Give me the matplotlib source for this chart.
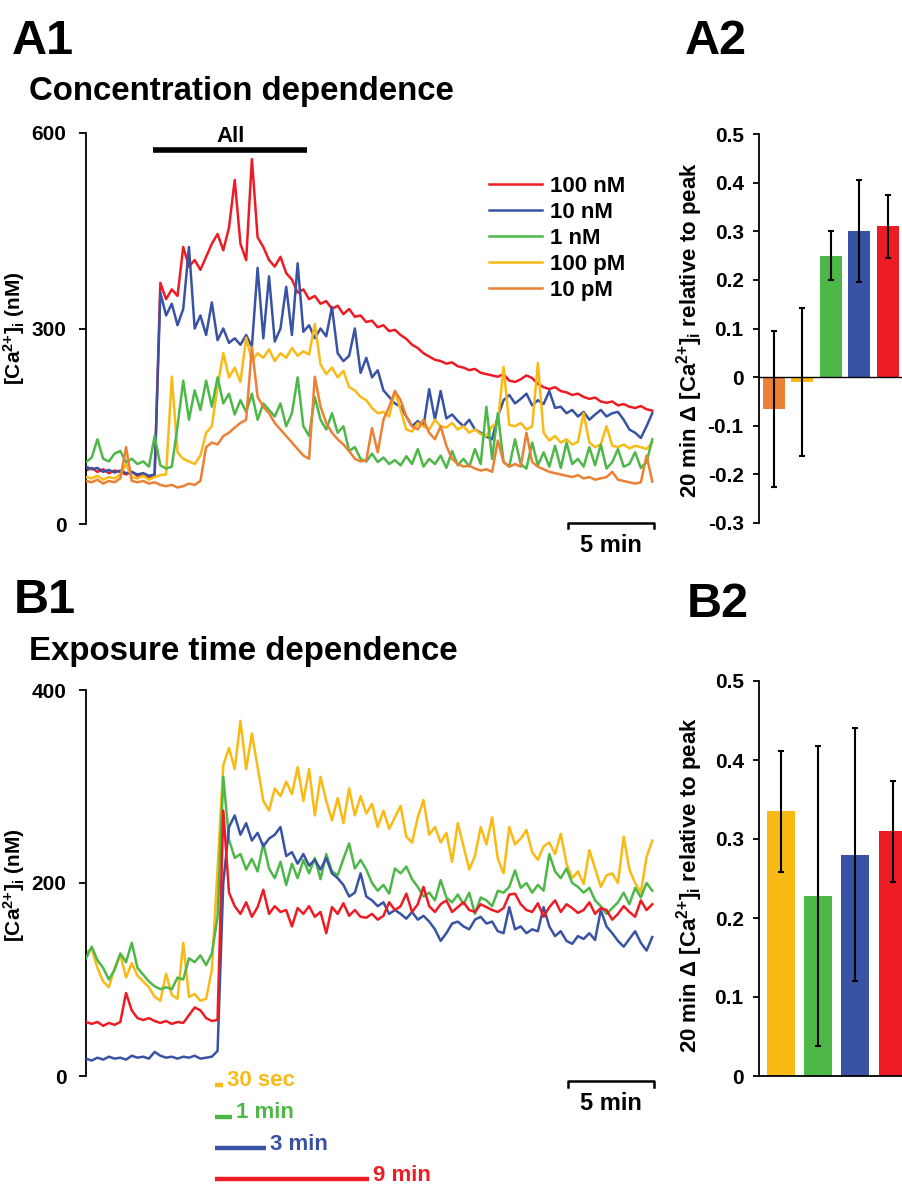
import numpy as np
import matplotlib
matplotlib.use('Agg')
import matplotlib.pyplot as plt

# ---------------- data ----------------
DT = 1 / 3

# A1: concentration dependence, [Ca2+]i (nM)
conc_labels = ['100 nM', '10 nM', '1 nM', '100 pM', '10 pM']
ca_100nM = [82, 86, 80, 84, 78, 82, 80, 76, 80, 74,
            77, 72, 75, 370, 345, 360, 350, 425, 395, 405,
            390, 410, 430, 445, 420, 455, 528, 430, 405, 560,
            440, 425, 405, 395, 410, 385, 375, 355, 360, 345,
            350, 338, 342, 330, 335, 322, 330, 318, 320, 310,
            312, 302, 305, 296, 298, 290, 284, 275, 270, 262,
            257, 252, 250, 246, 248, 242, 240, 236, 238, 232,
            230, 228, 226, 230, 220, 218, 222, 228, 224, 215,
            210, 207, 210, 204, 202, 198, 200, 195, 192, 194,
            188, 186, 188, 182, 184, 180, 178, 181, 176, 174]
ca_10nM = [88, 84, 86, 80, 83, 79, 82, 78, 80, 76,
           78, 74, 76, 355, 320, 338, 305, 330, 425, 300,
           320, 290, 340, 282, 300, 278, 285, 275, 290, 272,
           393, 285, 380, 280, 300, 364, 290, 400, 295, 305,
           285, 300, 288, 333, 262, 250, 258, 300, 232, 255,
           225, 236, 205, 195, 185, 180, 165, 150, 158, 150,
           207, 160, 204, 162, 168, 158, 150, 160, 145, 140,
           134, 130, 165, 190, 198, 185, 192, 200, 182, 190,
           184, 204, 178, 180, 170, 175, 165, 172, 160, 168,
           175, 165, 170, 172, 160, 145, 140, 132, 150, 170]
ca_1nM = [95, 102, 130, 100, 96, 108, 112, 95, 100, 92,
          96, 88, 135, 90, 85, 88, 150, 220, 160, 205,
          175, 220, 180, 225, 185, 200, 168, 190, 172, 200,
          160, 185, 175, 165, 185, 150, 170, 225, 150, 135,
          195, 160, 145, 170, 140, 150, 112, 118, 100, 96,
          108, 95, 102, 92, 98, 90, 104, 92, 115, 88,
          100, 92, 105, 86, 112, 90, 100, 88, 115, 92,
          180, 100, 170, 95, 88, 130, 92, 85, 125, 90,
          110, 88, 120, 86, 125, 92, 100, 88, 118, 90,
          122, 85, 95, 115, 88, 92, 110, 86, 95, 130]
ca_100pM = [72, 70, 74, 68, 72, 70, 76, 92, 72, 70,
            74, 68, 72, 75, 76, 226, 110, 100, 96, 92,
            105, 140, 150, 211, 262, 225, 240, 218, 286, 250,
            262, 255, 268, 250, 262, 255, 270, 258, 265, 260,
            307, 245, 230, 240, 225, 235, 210, 205, 195, 190,
            178, 170, 172, 165, 204, 175, 145, 142, 155, 150,
            145, 160, 150, 148, 155, 145, 150, 140, 145, 138,
            135, 150, 155, 241, 152, 150, 155, 145, 150, 247,
            140, 128, 135, 125, 130, 122, 126, 170, 125, 118,
            122, 150, 120, 118, 122, 116, 120, 118, 115, 125]
ca_10pM = [66, 64, 68, 62, 66, 64, 70, 118, 66, 64,
           66, 62, 64, 60, 58, 60, 56, 58, 62, 60,
           66, 118, 125, 122, 135, 140, 148, 155, 160, 272,
           195, 180, 170, 155, 145, 135, 125, 115, 105, 100,
           226, 180, 155, 140, 130, 122, 112, 100, 96, 98,
           147, 110, 160, 180, 204, 190, 165, 150, 145, 160,
           140, 130, 150, 120, 100, 92, 88, 90, 85, 82,
           84, 80, 128, 95, 88, 92, 88, 140, 95, 88,
           84, 80, 78, 76, 74, 72, 75, 70, 72, 68,
           70, 72, 80, 68, 66, 64, 62, 64, 105, 65]
all_on, all_off = 3.9, 12.9  # agonist application (min)

# A2: 20 min change relative to peak
a2_labels = ['10 pM', '100 pM', '1 nM', '10 nM', '100 nM']
a2_mean = [-0.065, -0.01, 0.25, 0.30, 0.31]
a2_err = [0.16, 0.152, 0.05, 0.105, 0.064]

# B1: exposure time dependence, [Ca2+]i (nM)
exp_labels = ['30 sec', '1 min', '3 min', '9 min']
exp_dur = [0.5, 1, 3, 9]
exp_on = 7.5
ca_30s = [128, 132, 112, 98, 92, 112, 126, 102, 117, 104,
          98, 92, 82, 78, 106, 84, 80, 138, 82, 85,
          78, 80, 110, 215, 322, 340, 318, 368, 318, 355,
          320, 285, 275, 298, 290, 305, 292, 320, 285, 318,
          270, 310, 285, 265, 288, 262, 298, 270, 290, 272,
          282, 258, 275, 256, 268, 280, 248, 242, 268, 286,
          250, 258, 242, 252, 222, 262, 238, 214, 228, 258,
          240, 268, 225, 210, 258, 240, 246, 255, 232, 224,
          238, 242, 230, 251, 220, 205, 212, 199, 234, 215,
          196, 208, 210, 200, 248, 214, 200, 190, 227, 244]
ca_1min = [122, 134, 120, 112, 100, 110, 127, 118, 138, 112,
           105, 98, 93, 90, 92, 90, 102, 100, 122, 118,
           125, 115, 127, 165, 310, 245, 226, 230, 214, 225,
           212, 241, 215, 205, 222, 198, 220, 205, 224, 210,
           226, 204, 230, 212, 208, 225, 241, 215, 224, 214,
           200, 192, 198, 189, 215, 210, 217, 204, 196, 186,
           190, 182, 203, 185, 180, 188, 178, 190, 168, 185,
           182, 176, 192, 190, 196, 213, 195, 200, 190, 198,
           192, 230, 212, 205, 215, 200, 196, 190, 195, 182,
           176, 168, 174, 180, 190, 178, 195, 185, 200, 192]
ca_3min = [18, 16, 19, 17, 20, 18, 19, 17, 21, 19,
           20, 18, 25, 21, 19, 20, 18, 20, 19, 21,
           18, 19, 20, 26, 200, 258, 270, 250, 262, 244,
           252, 238, 246, 250, 258, 228, 232, 220, 230, 218,
           224, 214, 226, 210, 205, 198, 186, 190, 210, 186,
           182, 176, 180, 168, 172, 168, 163, 170, 162, 166,
           160, 152, 140, 148, 158, 160, 155, 152, 162, 165,
           158, 160, 150, 148, 175, 152, 155, 148, 152, 150,
           175, 155, 145, 150, 140, 137, 145, 142, 148, 141,
           172, 155, 148, 140, 134, 142, 150, 138, 130, 144]
ca_9min = [56, 54, 56, 52, 55, 53, 56, 86, 68, 60,
           58, 60, 57, 55, 57, 54, 56, 55, 63, 71,
           68, 60, 57, 58, 275, 190, 176, 168, 180, 165,
           175, 193, 168, 176, 170, 172, 155, 174, 168, 176,
           165, 170, 148, 175, 168, 179, 166, 172, 165, 164,
           168, 162, 166, 180, 172, 176, 189, 170, 178, 196,
           176, 170, 178, 182, 170, 175, 180, 172, 170, 178,
           175, 172, 170, 174, 188, 189, 178, 172, 170, 179,
           165, 175, 182, 170, 178, 174, 169, 172, 180, 168,
           174, 172, 162, 168, 176, 170, 165, 182, 172, 178]

# B2: 20 min change relative to peak
b2_labels = ['30 sec', '1 min', '3 min', '9 min']
b2_mean = [0.335, 0.228, 0.28, 0.31]
b2_err = [0.077, 0.19, 0.16, 0.064]

# ---------------- style ----------------
RED, BLUE, GREEN, YELLOW, ORANGE = '#ED1C24', '#3953A4', '#4DB848', '#F9BA15', '#EC8034'

plt.rcParams.update({
    'font.family': ['Liberation Sans', 'DejaVu Sans'],
    'font.weight': 'bold',
    'mathtext.fontset': 'custom',
    'mathtext.rm': 'Liberation Sans:bold',
    'mathtext.bf': 'Liberation Sans:bold',
    'mathtext.it': 'Liberation Sans:bold',
    'mathtext.default': 'bf',
})

W, H = 903, 1185
fig = plt.figure(figsize=(W / 100, H / 100), dpi=100)


def fx(px):
    return px / W


def fy(py):
    return 1 - py / H


def trace_axes(ax, ymax, step):
    for s in ['top', 'right', 'bottom']:
        ax.spines[s].set_visible(False)
    ax.spines['left'].set_linewidth(1.3)
    ax.set_xticks([])
    ax.set_xlim(0, 33.1)
    ax.set_ylim(0, ymax)
    ax.set_yticks(np.arange(0, ymax + 1, step))
    ax.tick_params(axis='y', direction='out', length=5, width=1.3, pad=9, labelsize=15)


def bar_axes(ax, lo, hi):
    for s in ['top', 'right']:
        ax.spines[s].set_visible(False)
    ax.spines['left'].set_linewidth(1.3)
    ax.set_ylim(lo, hi)
    ticks = np.linspace(lo, hi, int(round((hi - lo) / 0.1)) + 1)
    ax.set_yticks(ticks)
    ax.set_yticklabels(['0' if abs(v) < 1e-9 else '{:.1f}'.format(v) for v in ticks])
    ax.set_xticks([])
    ax.tick_params(axis='y', direction='out', length=4, width=1.3, pad=7, labelsize=15)


def scale_bar(ax, x_end, y, tick):
    ax.plot([x_end - 5, x_end - 5, x_end, x_end], [y - tick, y, y, y - tick],
            color='black', lw=1.8, clip_on=False)
    ax.annotate('5 min', xy=(x_end - 2.5, y), xytext=(0, -8), textcoords='offset points',
                ha='center', va='top', fontsize=17, annotation_clip=False)


# ---------------- A1 ----------------
axA1 = fig.add_axes([fx(86), fy(524), 568 / W, 391 / H])
trace_axes(axA1, 600, 300)
handles = []
for vals, col, z in zip([ca_100nM, ca_10nM, ca_1nM, ca_100pM, ca_10pM],
                        [RED, BLUE, GREEN, YELLOW, ORANGE], [2, 3, 5, 4, 6]):
    t = np.arange(len(vals)) * DT
    h, = axA1.plot(t, vals, color=col, lw=1.8, zorder=z)
    handles.append(h)
axA1.plot([all_on, all_off], [574, 574], color='black', lw=4, solid_capstyle='butt', clip_on=False)
axA1.annotate('All', xy=((all_on + all_off) / 2, 574), xytext=(0, 2), textcoords='offset points',
              ha='center', va='bottom', fontsize=16, annotation_clip=False)
scale_bar(axA1, 33.1, 2, 8)
axA1.legend(handles, conc_labels, loc='upper left', bbox_to_anchor=(fx(489), fy(176)),
            bbox_transform=fig.transFigure, frameon=False, fontsize=16, handlelength=2.4,
            handletextpad=0.35, labelspacing=0.22, borderpad=0, borderaxespad=0)

# ---------------- A2 ----------------
axA2 = fig.add_axes([fx(759), fy(523), 146 / W, 389 / H])
bar_axes(axA2, -0.3, 0.5)
axA2.spines['bottom'].set_visible(False)
axA2.bar(np.arange(len(a2_mean)), a2_mean, width=0.77, color=[ORANGE, YELLOW, GREEN, BLUE, RED],
         yerr=a2_err, error_kw=dict(ecolor='black', elinewidth=1.5, capsize=2.5, capthick=1.5))
axA2.axhline(0, color='black', lw=1)
axA2.set_xlim(-0.52, 4.6)

# ---------------- B1 ----------------
axB1 = fig.add_axes([fx(86), fy(1076), 568 / W, 386 / H])
trace_axes(axB1, 400, 200)
for vals, col, z in zip([ca_30s, ca_1min, ca_3min, ca_9min],
                        [YELLOW, GREEN, BLUE, RED], [2, 3, 4, 5]):
    t = np.arange(len(vals)) * DT
    axB1.plot(t, vals, color=col, lw=1.8, zorder=z)
scale_bar(axB1, 33.1, -5, 6)
for lab, dur, col, y in zip(exp_labels, exp_dur, [YELLOW, GREEN, BLUE, RED], [-9, -42, -75, -107]):
    axB1.plot([exp_on, exp_on + dur], [y, y], color=col, lw=3.2, solid_capstyle='butt', clip_on=False)
    axB1.annotate(lab, xy=(exp_on + dur, y), xytext=(3, 3), textcoords='offset points',
                  ha='left', va='center', fontsize=16, color=col, annotation_clip=False)

# ---------------- B2 ----------------
axB2 = fig.add_axes([fx(759), fy(1076), 156 / W, 395 / H])
bar_axes(axB2, 0, 0.5)
axB2.spines['bottom'].set_linewidth(1.3)
axB2.bar(np.arange(len(b2_mean)), b2_mean, width=0.75, color=[YELLOW, GREEN, BLUE, RED],
         yerr=b2_err, error_kw=dict(ecolor='black', elinewidth=1.5, capsize=2.5, capthick=1.5))
axB2.set_xlim(-0.59, 3.6)

# ---------------- text ----------------
ca_label = r'[Ca$^{2{+}}$]$_{i}$ (nM)'
delta_label = r'20 min Δ [Ca$^{2{+}}$]$_{i}$ relative to peak'

fig.text(fx(12), fy(54), 'A1', fontsize=35, va='baseline')
fig.text(fx(685), fy(54), 'A2', fontsize=35, va='baseline')
fig.text(fx(14), fy(613), 'B1', fontsize=35, va='baseline')
fig.text(fx(687), fy(617), 'B2', fontsize=35, va='baseline')
fig.text(fx(29), fy(100), 'Concentration dependence', fontsize=23.8, va='baseline')
fig.text(fx(29), fy(660), 'Exposure time dependence', fontsize=23.8, va='baseline')
fig.text(fx(14), fy(328), ca_label, rotation=90, ha='center', va='center', fontsize=15)
fig.text(fx(14), fy(885), ca_label, rotation=90, ha='center', va='center', fontsize=15)
fig.text(fx(690), fy(330), delta_label, rotation=90, ha='center', va='center', fontsize=16)
fig.text(fx(690), fy(885), delta_label, rotation=90, ha='center', va='center', fontsize=16)

plt.savefig('out.png', dpi=100)
plt.close()
print('Saved to out.png')
